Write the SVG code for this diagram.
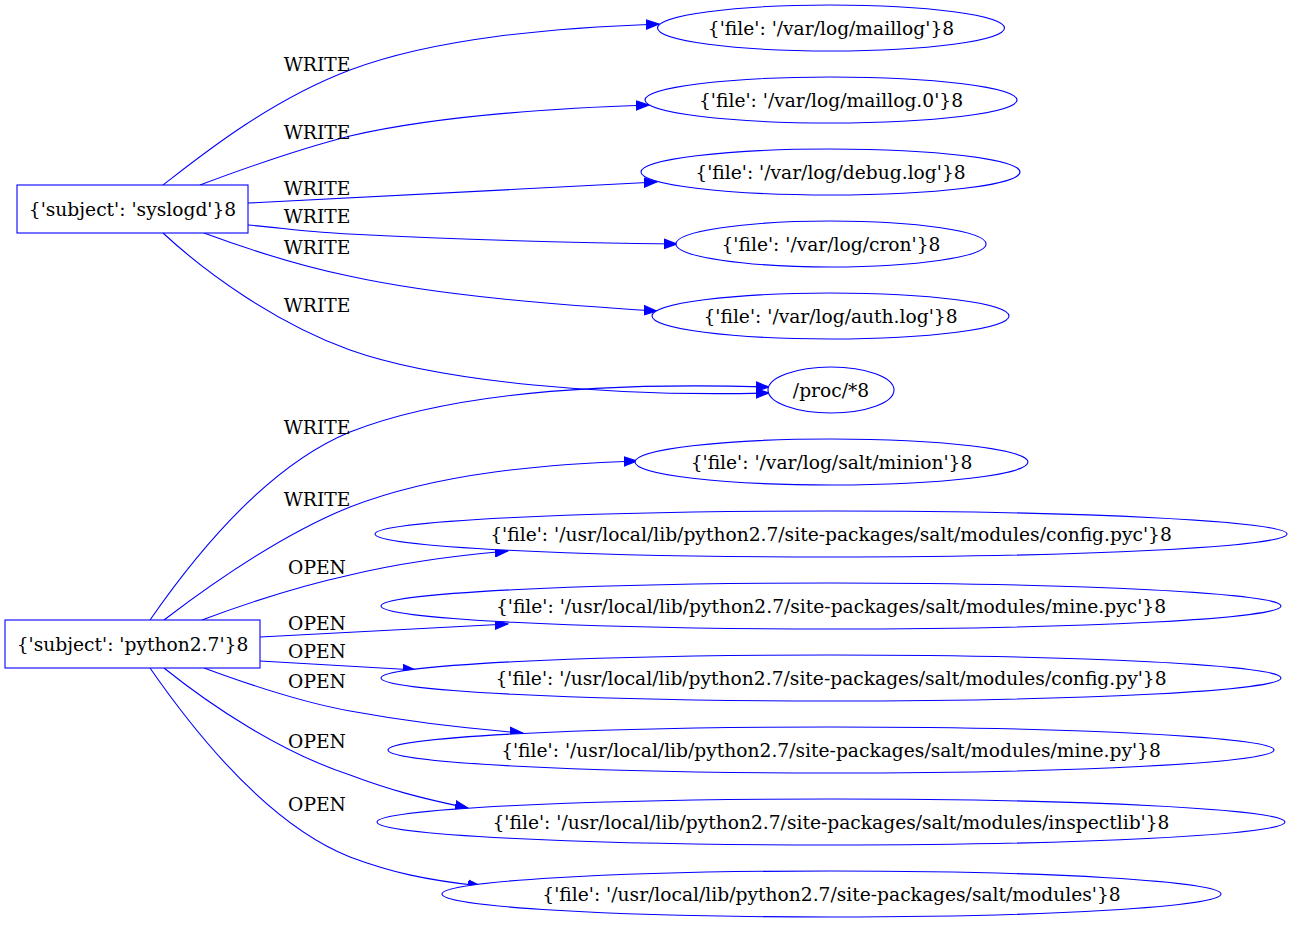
<svg xmlns="http://www.w3.org/2000/svg" width="1293" height="925" viewBox="0 0 1293 925">
<defs>
<marker id="ah" markerUnits="userSpaceOnUse" markerWidth="14" markerHeight="12" viewBox="0 -6 14 12" refX="13" refY="0" orient="auto">
<path d="M0,-4.8 L13,0 L0,4.8 z" fill="#0000ff" stroke="#0000ff" stroke-width="1"/>
</marker>
<style>
text{font-family:"DejaVu Serif","Liberation Serif",serif;font-size:18.67px;fill:#000}
.n{text-anchor:middle}
.e{fill:none;stroke:#0000ff;stroke-width:1.1;marker-end:url(#ah)}
.s{fill:#fff;stroke:#0000ff;stroke-width:1.1}
.l{text-anchor:middle}
</style>
</defs>
<rect width="1293" height="925" fill="#fff"/>
<g id="connectors">
<path class="e" d="M163,185 C198,158 268,101 350,70 C435,38 552,28 659,24"/>
<path class="e" d="M200,185 C240,170 295,150 350,136 C440,115 560,108 649,105"/>
<path class="e" d="M248,203 C350,198 520,189 657,182"/>
<path class="e" d="M248,225 C290,229 320,233 349,234 C450,239 560,243 677,244"/>
<path class="e" d="M204,233 C250,250 300,266 349,276 C440,296 560,305 657,311"/>
<path class="e" d="M163,233 C205,272 275,323 350,350 C440,382 610,397 769,393"/>
<path class="e" d="M150,620 C200,548 270,465 350,432 C450,393 600,382 769,387"/>
<path class="e" d="M164,620 C210,585 280,535 350,507 C440,472 550,464 637,461"/>
<path class="e" d="M202,620 C250,602 300,586 350,575 C400,563 450,556 508,551"/>
<path class="e" d="M260,637 C350,632 430,628 508,624"/>
<path class="e" d="M260,661 C310,664 360,667 416,670"/>
<path class="e" d="M204,668 C250,685 300,702 350,711 C410,722 460,728 523,733"/>
<path class="e" d="M164,668 C210,705 280,752 350,775 C390,790 420,798 468,808"/>
<path class="e" d="M150,668 C200,740 270,825 350,857 C390,872 425,880 481,886"/>
<text class="l" x="317" y="71">WRITE</text>
<text class="l" x="317" y="139">WRITE</text>
<text class="l" x="317" y="195">WRITE</text>
<text class="l" x="317" y="223">WRITE</text>
<text class="l" x="317" y="254">WRITE</text>
<text class="l" x="317" y="312">WRITE</text>
<text class="l" x="317" y="434">WRITE</text>
<text class="l" x="317" y="506">WRITE</text>
<text class="l" x="317" y="574">OPEN</text>
<text class="l" x="317" y="630">OPEN</text>
<text class="l" x="317" y="658">OPEN</text>
<text class="l" x="317" y="688">OPEN</text>
<text class="l" x="317" y="748">OPEN</text>
<text class="l" x="317" y="811">OPEN</text>
</g>
<g id="syslogd"><rect class="s" x="17" y="185" width="231" height="48"/><text class="n" x="132.5" y="216">{'subject': 'syslogd'}8</text></g>
<g id="python27"><rect class="s" x="5" y="620" width="255" height="48"/><text class="n" x="132.5" y="651">{'subject': 'python2.7'}8</text></g>
<g id="maillog"><ellipse class="s" cx="831" cy="28" rx="173.5" ry="23"/><text class="n" x="831" y="35">{'file': '/var/log/maillog'}8</text></g>
<g id="maillog0"><ellipse class="s" cx="831" cy="100" rx="186" ry="23"/><text class="n" x="831" y="107">{'file': '/var/log/maillog.0'}8</text></g>
<g id="debuglog"><ellipse class="s" cx="830.5" cy="172" rx="189.5" ry="23"/><text class="n" x="830.5" y="179">{'file': '/var/log/debug.log'}8</text></g>
<g id="cron"><ellipse class="s" cx="831" cy="244" rx="155" ry="23"/><text class="n" x="831" y="251">{'file': '/var/log/cron'}8</text></g>
<g id="authlog"><ellipse class="s" cx="830.5" cy="316" rx="178.5" ry="23"/><text class="n" x="830.5" y="323">{'file': '/var/log/auth.log'}8</text></g>
<g id="proc"><ellipse class="s" cx="831" cy="390" rx="63" ry="23"/><text class="n" x="831" y="397">/proc/*8</text></g>
<g id="minion"><ellipse class="s" cx="831.5" cy="462" rx="196.5" ry="23"/><text class="n" x="831.5" y="469">{'file': '/var/log/salt/minion'}8</text></g>
<g id="configpyc"><ellipse class="s" cx="831" cy="534" rx="456" ry="23"/><text class="n" x="831" y="541">{'file': '/usr/local/lib/python2.7/site-packages/salt/modules/config.pyc'}8</text></g>
<g id="minepyc"><ellipse class="s" cx="831" cy="606" rx="450" ry="23"/><text class="n" x="831" y="613">{'file': '/usr/local/lib/python2.7/site-packages/salt/modules/mine.pyc'}8</text></g>
<g id="configpy"><ellipse class="s" cx="831" cy="678" rx="450" ry="23"/><text class="n" x="831" y="685">{'file': '/usr/local/lib/python2.7/site-packages/salt/modules/config.py'}8</text></g>
<g id="minepy"><ellipse class="s" cx="831" cy="750" rx="443" ry="23"/><text class="n" x="831" y="757">{'file': '/usr/local/lib/python2.7/site-packages/salt/modules/mine.py'}8</text></g>
<g id="inspectlib"><ellipse class="s" cx="831" cy="822" rx="454" ry="23"/><text class="n" x="831" y="829">{'file': '/usr/local/lib/python2.7/site-packages/salt/modules/inspectlib'}8</text></g>
<g id="modules"><ellipse class="s" cx="831.5" cy="894" rx="389.5" ry="23"/><text class="n" x="831.5" y="901">{'file': '/usr/local/lib/python2.7/site-packages/salt/modules'}8</text></g>
</svg>
